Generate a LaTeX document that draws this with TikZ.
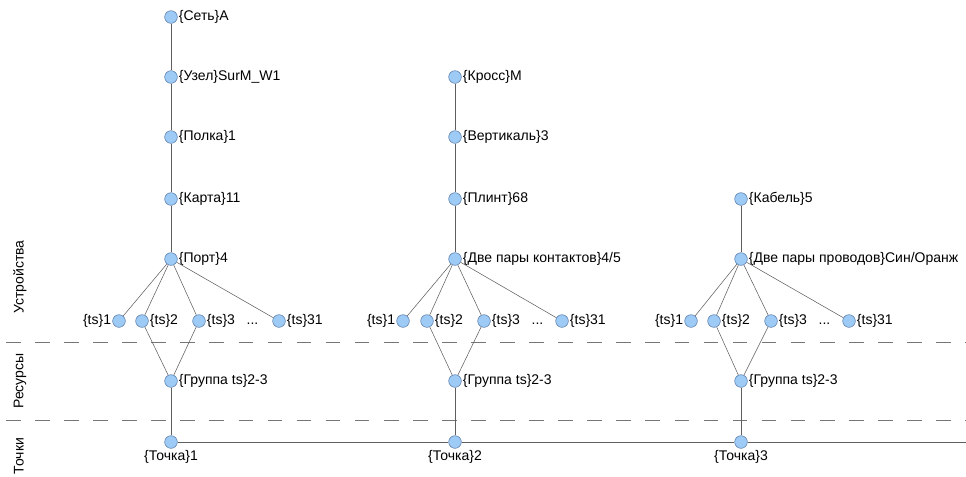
\documentclass[tikz,border=0pt]{standalone}
\usepackage{fontspec}
\setmainfont{Liberation Sans}
\definecolor{dotfill}{HTML}{9DCBF6}
\definecolor{dotline}{HTML}{5B7BA6}
\definecolor{wire}{HTML}{5E5E5E}
\begin{document}
\begin{tikzpicture}
    [
        x=0.75pt, y=-0.75pt,
        font=\fontsize{10.5}{12}\selectfont,
        dot/.style={circle, draw=dotline, fill=dotfill, thin, minimum size=9.5pt, inner sep=0pt},
        lbl/.style={inner sep=0.8pt, label distance=0pt},
        edge/.style={draw=wire, thin},
        band/.style={draw=wire!85, thin, dash pattern=on 11pt off 10.8pt},
        side/.style={rotate=90, anchor=center}
    ]
    \useasboundingbox (0,0) rectangle (966,476);

    % Layer labels and borders
    \node[side] (devices) at (20,277) {Устройства};
    \node[side] (resources) at (20,381) {Ресурсы};
    \node[side] (points) at (19,456) {Точки};
    \draw[band] (6,342) -- (966,342);
    \draw[band] (6,420) -- (966,420);

    % Column 1
    \node[dot, label={[lbl]right:\{Сеть\}A}] (net) at (171,17) {};
    \node[dot, label={[lbl]right:\{Узел\}SurM\_W1}] (host) at (171,77) {};
    \node[dot, label={[lbl]right:\{Полка\}1}] (shelf) at (171,137) {};
    \node[dot, label={[lbl]right:\{Карта\}11}] (card) at (171,199) {};
    \node[dot, label={[lbl]right:\{Порт\}4}] (port) at (171,259) {};
    \node[dot, label={[lbl]left:\{ts\}1}] (tsa1) at (119,321) {};
    \node[dot, label={[lbl]right:\{ts\}2}] (tsa2) at (142,321) {};
    \node[dot, label={[lbl]right:\{ts\}3\ \ \ ...}] (tsa3) at (199,321) {};
    \node[dot, label={[lbl]right:\{ts\}31}] (tsa31) at (279,321) {};
    \node[dot, label={[lbl]right:\{Группа ts\}2-3}] (grpa) at (171,381) {};
    \node[dot, label={[lbl]below:\{Точка\}1}] (pta) at (171,442) {};

    % Column 2
    \node[dot, label={[lbl]right:\{Кросс\}M}] (cross) at (455,77) {};
    \node[dot, label={[lbl]right:\{Вертикаль\}3}] (vert) at (455,137) {};
    \node[dot, label={[lbl]right:\{Плинт\}68}] (plint) at (455,199) {};
    \node[dot, label={[lbl]right:\{Две пары контактов\}4/5}] (pins) at (455,259) {};
    \node[dot, label={[lbl]left:\{ts\}1}] (tsb1) at (403,321) {};
    \node[dot, label={[lbl]right:\{ts\}2}] (tsb2) at (427,321) {};
    \node[dot, label={[lbl]right:\{ts\}3\ \ \ ...}] (tsb3) at (484,321) {};
    \node[dot, label={[lbl]right:\{ts\}31}] (tsb31) at (562,321) {};
    \node[dot, label={[lbl]right:\{Группа ts\}2-3}] (grpb) at (455,381) {};
    \node[dot, label={[lbl]below:\{Точка\}2}] (ptb) at (455,442) {};

    % Column 3
    \node[dot, label={[lbl]right:\{Кабель\}5}] (cable) at (741,199) {};
    \node[dot, label={[lbl]right:\{Две пары проводов\}Син/Оранж}] (wires) at (741,259) {};
    \node[dot, label={[lbl]left:\{ts\}1}] (tsc1) at (691,321) {};
    \node[dot, label={[lbl]right:\{ts\}2}] (tsc2) at (714,321) {};
    \node[dot, label={[lbl]right:\{ts\}3\ \ \ ...}] (tsc3) at (771,321) {};
    \node[dot, label={[lbl]right:\{ts\}31}] (tsc31) at (849,321) {};
    \node[dot, label={[lbl]right:\{Группа ts\}2-3}] (grpc) at (741,381) {};
    \node[dot, label={[lbl]below:\{Точка\}3}] (ptc) at (741,442) {};

    \coordinate (rimend) at (966,442);

    % Edges
    \draw[edge] (net) -- (host) -- (shelf) -- (card) -- (port);
    \draw[edge] (cross) -- (vert) -- (plint) -- (pins);
    \draw[edge] (cable) -- (wires);
    \foreach \c/\top in {a/port, b/pins, c/wires} {
        \foreach \t in {1,2,3,31}
            \draw[edge] (\top) -- (ts\c\t);
        \draw[edge] (ts\c2) -- (grp\c);
        \draw[edge] (ts\c3) -- (grp\c);
        \draw[edge] (grp\c) -- (pt\c);
    }
    \draw[edge] (pta) -- (ptb) -- (ptc) -- (rimend);
\end{tikzpicture}
\end{document}
